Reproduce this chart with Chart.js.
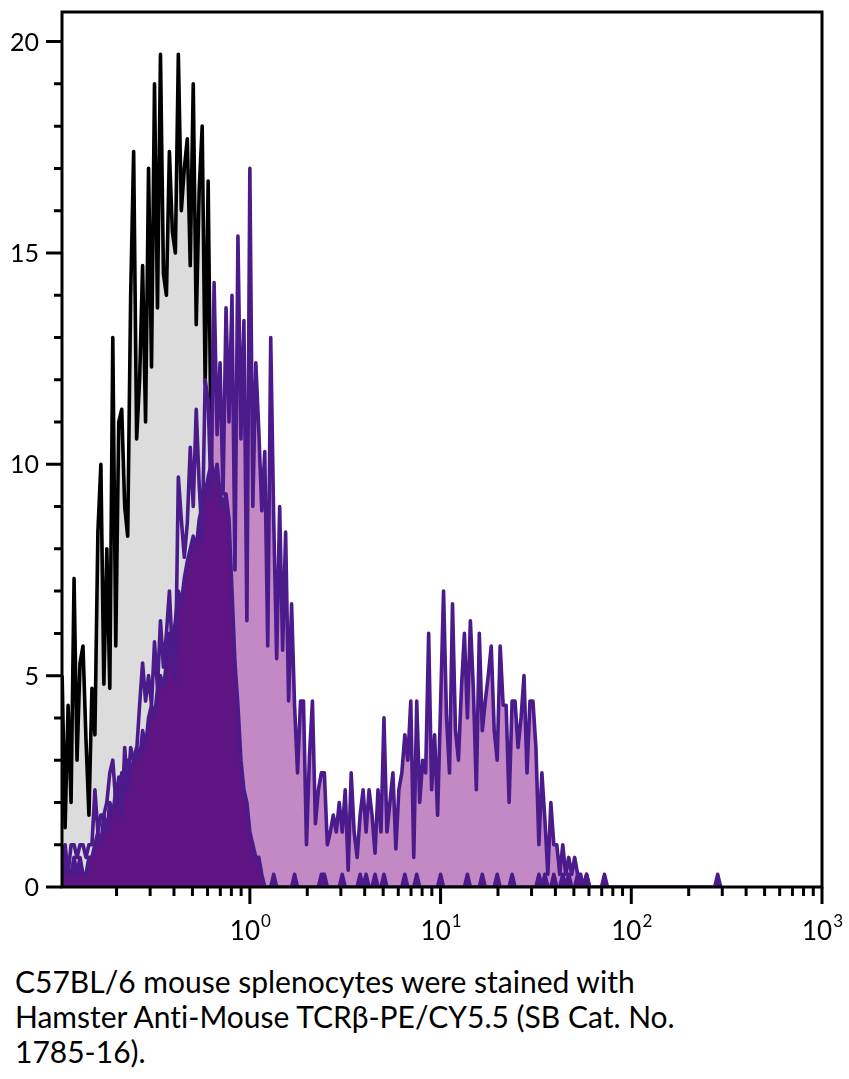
<!DOCTYPE html>
<html>
<head>
<meta charset="utf-8">
<script src="https://cdn.jsdelivr.net/npm/chart.js@4.4.0/dist/chart.umd.min.js"></script>
<style>
	body { margin: 0; background: #fff; }
	#wrap { width: 849px; height: 960px; }
	#caption {
		font-family: Lato, sans-serif;
		font-size: 30px;
		line-height: 35px;
		font-variant-ligatures: none;
		color: #000;
		margin: 4px 0 0 15px;
	}
</style>
</head>
<body>
<div id="wrap"><canvas id="histo" width="849" height="960"></canvas></div>
<div id="caption">C57BL/6 mouse splenocytes were stained with<br>Hamster Anti-Mouse TCRβ-PE/CY5.5 (SB Cat. No.<br>1785-16).</div>
<script>
// channels: 64 per decade, channel 64 = 10^0
const channelsPerDecade = 64;
const firstChannel = 1;

// unstained control (grey)
const controlCounts = [
	5.0, 1.4, 4.3, 2.0, 7.3, 3.0, 5.3, 5.7, 3.5, 1.7,
	4.7, 3.6, 8.4, 10.0, 4.8, 8.0, 4.7, 13.0, 5.7, 11.0,
	11.3, 9.0, 8.3, 14.0, 17.4, 10.6, 12.0, 14.7, 11.0, 17.0,
	12.3, 19.0, 13.7, 19.7, 14.5, 14.0, 17.4, 15.5, 15.0, 19.7,
	16.0, 17.0, 17.7, 14.7, 19.0, 13.3, 16.5, 18.0, 11.9, 16.7,
	10.2, 9.0, 6.0, 4.0, 2.3, 1.3, 0.7, 0.3, 0
];

// TCRb stained (light purple)
const stainedCounts = [
	0.7, 1.0, 0.3, 1.0, 1.0, 0.7, 1.0, 1.0, 0.7, 1.0,
	1.0, 2.3, 1.3, 1.7, 1.7, 2.0, 2.7, 3.0, 2.0, 2.6,
	1.6, 3.3, 2.3, 3.3, 3.0, 3.2, 4.3, 5.3, 4.4, 5.0,
	4.3, 5.8, 4.7, 6.3, 5.2, 6.0, 7.0, 5.5, 4.9, 9.7,
	8.7, 7.8, 8.6, 10.4, 9.0, 11.3, 9.5, 8.2, 12.0, 11.5,
	9.2, 14.3, 10.7, 12.4, 9.3, 13.7, 11.0, 14.0, 7.5, 15.4,
	10.6, 13.4, 6.3, 17.0, 9.0, 12.4, 10.8, 8.9, 10.3, 5.7,
	13.0, 8.7, 5.4, 9.0, 5.6, 8.4, 4.4, 6.7, 4.3, 2.7,
	4.4, 4.4, 1.0, 3.1, 4.4, 1.5, 2.3, 2.7, 2.7, 1.0,
	1.3, 1.7, 1.3, 2.0, 1.3, 2.3, 0.4, 2.7, 1.3, 0.7,
	1.7, 2.3, 1.3, 2.3, 1.7, 0.8, 2.3, 1.3, 4.0, 1.3,
	2.0, 2.7, 0.9, 2.3, 2.7, 3.6, 3.0, 4.4, 0.7, 4.4,
	2.0, 3.0, 2.7, 6.0, 2.3, 3.6, 1.7, 4.3, 7.0, 4.0,
	2.7, 6.7, 3.7, 3.0, 4.7, 6.0, 4.0, 6.3, 4.7, 2.3,
	6.0, 3.7, 4.4, 5.0, 5.7, 3.7, 3.0, 5.7, 4.3, 4.3,
	2.0, 4.4, 4.4, 3.3, 4.0, 5.0, 2.7, 4.4, 4.4, 3.3,
	1.0, 2.7, 1.6, 0.3, 2.0, 1.0, 1.0, 0.3, 1.0, 0.3,
	0.7, 0.3, 0.7, 0.3, 0.3, 0, 0.3, 0
];

// TCRb negative population (dark purple)
const negativeCounts = [
	0.3, 0.7, 0.3, 0.3, 0.7, 0.3, 0.7, 0.3, 0.3, 0.7,
	0.7, 1.0, 1.3, 1.0, 1.7, 1.3, 2.0, 1.7, 2.3, 2.0,
	2.7, 2.3, 3.0, 2.7, 3.0, 3.3, 3.0, 3.7, 3.3, 4.0,
	4.3, 4.0, 4.7, 5.0, 4.7, 5.3, 6.0, 5.7, 6.3, 7.0,
	6.7, 7.3, 7.7, 8.0, 8.3, 8.0, 8.7, 9.0, 9.3, 9.7,
	10.0, 9.7, 10.0, 9.3, 9.0, 9.3, 8.7, 7.0, 5.3, 4.3,
	3.0, 2.3, 2.0, 1.3, 1.0, 0.7, 0.7, 0.3, 0, 0,
	0, 0.3, 0, 0, 0, 0, 0, 0, 0.3, 0,
	0, 0, 0, 0, 0, 0, 0, 0.3, 0.3, 0,
	0, 0, 0, 0, 0.3, 0, 0, 0, 0, 0,
	0.3, 0, 0.3, 0, 0, 0.3, 0, 0, 0.3, 0,
	0, 0, 0, 0, 0, 0.3, 0, 0, 0, 0.3,
	0, 0, 0, 0, 0, 0, 0, 0.3, 0, 0,
	0, 0, 0, 0, 0, 0, 0.3, 0, 0, 0,
	0, 0.3, 0, 0, 0, 0, 0.3, 0, 0, 0,
	0, 0.3, 0, 0, 0, 0, 0, 0, 0, 0,
	0.3, 0, 0.3, 0, 0, 0.3, 0, 0, 0.3, 0,
	0.3, 0, 0, 0.3, 0, 0, 0.3, 0, 0, 0,
	0, 0, 0.3, 0, 0, 0, 0, 0, 0, 0,
	0, 0, 0, 0, 0, 0, 0, 0, 0, 0,
	0, 0, 0, 0, 0, 0, 0, 0, 0, 0,
	0, 0, 0, 0, 0, 0, 0, 0, 0, 0,
	0.3, 0
];

const yTickLabels = [0, 5, 10, 15, 20];
const xDecadeExponents = [0, 1, 2, 3];

const xMin = 0.1035;
const xMax = 1000;
const yMax = 20.7;

let grey = "#dcdcdc";
let lightPurple = "#c289c5";
let darkFill = "#5e1482";
let linePurple = "#4b1a8b";
let tickFont = "Lato, sans-serif";
let lineW = 3.6;

function toPoints(vals) {
	return vals.map(function (v, i) {
		return { x: Math.pow(10, (firstChannel + i) / channelsPerDecade - 1), y: v };
	});
}

// frame, tick marks and tick labels on top of the data
let axesPlugin = {
	id: "axesOnTop",
	afterDatasetsDraw(chart) {
		let ctx = chart.ctx;
		let a = chart.chartArea;
		let xs = chart.scales.x;
		let ys = chart.scales.y;
		ctx.save();
		ctx.strokeStyle = "#000";
		ctx.lineWidth = 3;
		ctx.lineCap = "butt";
		ctx.strokeRect(a.left, a.top, a.right - a.left, a.bottom - a.top);

		// y ticks
		ctx.beginPath();
		for (let v = 0; v <= Math.floor(yMax); v++) {
			let py = ys.getPixelForValue(v);
			let len = yTickLabels.includes(v) ? 16 : 8;
			ctx.moveTo(a.left - len, py);
			ctx.lineTo(a.left, py);
		}
		// x ticks
		for (let k = -1; k <= 2; k++) {
			for (let m = 1; m <= 10; m++) {
				let v = m * Math.pow(10, k);
				if (v < xMin || v > xMax) continue;
				let px = xs.getPixelForValue(v);
				let len = (m === 1 || m === 10) ? 17 : 9;
				ctx.moveTo(px, a.bottom);
				ctx.lineTo(px, a.bottom + len);
			}
		}
		ctx.stroke();

		ctx.fillStyle = "#000";
		ctx.font = "25px " + tickFont;
		ctx.textAlign = "right";
		ctx.textBaseline = "middle";
		yTickLabels.forEach(function (v) {
			ctx.fillText(String(v), a.left - 23, ys.getPixelForValue(v) + 1);
		});

		ctx.textBaseline = "alphabetic";
		ctx.textAlign = "left";
		xDecadeExponents.forEach(function (e) {
			let px = xs.getPixelForValue(Math.pow(10, e));
			ctx.font = "26px " + tickFont;
			let wBase = ctx.measureText("10").width;
			ctx.font = "17px " + tickFont;
			let wSup = ctx.measureText(String(e)).width;
			let x0 = px - (wBase + wSup) / 2;
			ctx.font = "26px " + tickFont;
			ctx.fillText("10", x0, a.bottom + 53);
			ctx.font = "17px " + tickFont;
			ctx.fillText(String(e), x0 + wBase + 1, a.bottom + 40);
		});
		ctx.restore();
	}
};

let histo = new Chart(document.getElementById("histo"), {
	type: "line",
	data: {
		datasets: [
			{
				label: "stained fill",
				data: toPoints(stainedCounts),
				fill: "origin",
				backgroundColor: lightPurple,
				borderColor: "rgba(0,0,0,0)",
				borderWidth: 1,
				order: 5
			}, {
				label: "control fill",
				data: toPoints(controlCounts),
				fill: "origin",
				backgroundColor: grey,
				borderColor: "rgba(0,0,0,0)",
				borderWidth: 1,
				order: 4
			}, {
				label: "control",
				data: toPoints(controlCounts),
				fill: false,
				borderColor: "#000",
				borderWidth: lineW,
				order: 3
			}, {
				label: "negative",
				data: toPoints(negativeCounts),
				fill: "origin",
				backgroundColor: darkFill,
				borderColor: linePurple,
				borderWidth: lineW,
				order: 2
			}, {
				label: "stained",
				data: toPoints(stainedCounts),
				fill: false,
				borderColor: linePurple,
				borderWidth: lineW,
				order: 1
			}
		]
	},
	options: {
		responsive: false,
		devicePixelRatio: 1,
		animation: false,
		layout: { padding: { left: 62, top: 12, right: 27, bottom: 73 } },
		elements: {
			point: { radius: 0 },
			line: { tension: 0, borderJoinStyle: "round" }
		},
		scales: {
			x: { type: "logarithmic", display: false, min: xMin, max: xMax },
			y: { type: "linear", display: false, min: 0, max: yMax }
		},
		plugins: {
			legend: { display: false },
			tooltip: { enabled: false }
		}
	},
	plugins: [axesPlugin]
});
</script>
</body>
</html>
